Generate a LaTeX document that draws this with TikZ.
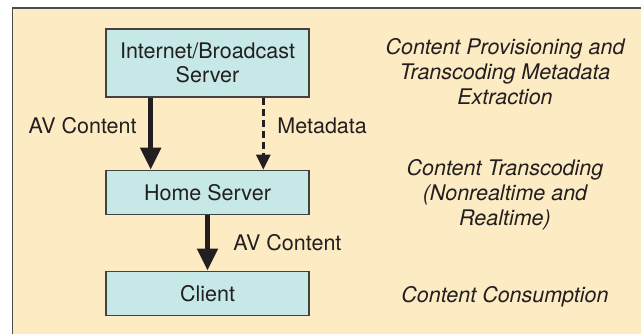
\documentclass[tikz,border=0pt]{standalone}
\usepackage{fontspec}
\setmainfont{TeX Gyre Heros}
\usetikzlibrary{arrows.meta}
\definecolor{panelbg}{HTML}{FDEBC3}
\definecolor{boxfill}{HTML}{C6E8E6}
\definecolor{inkdark}{HTML}{231F20}
\begin{document}
\begin{tikzpicture}[x=0.5pt, y=-0.5pt,
  every node/.style={text=inkdark, inner sep=0pt},
  srvbox/.style={draw=inkdark!85, line width=0.8pt, fill=boxfill, minimum width=101.5pt,
    align=center, font=\fontsize{10.75}{12}\selectfont},
  lbl/.style={font=\fontsize{10.75}{12}\selectfont},
  role/.style={align=center, anchor=north, font=\fontsize{10.75}{12.5}\selectfont\itshape},
  avflow/.style={draw=inkdark, line width=2.5pt, -{Triangle[width=10pt,length=11pt]}},
  metaflow/.style={draw=inkdark, line width=1.4pt, dash pattern=on 3.5pt off 2pt,
    -{Triangle[width=7pt,length=7.5pt]}}]
\useasboundingbox (0,0) rectangle (641,333);
\draw[draw=inkdark!80, line width=0.8pt, fill=panelbg] (12.5,8) rectangle (660,350);
\node[srvbox, minimum height=34pt] (srv0) at (207.5,62.8){Internet/Broadcast\\Server};
\node[srvbox, minimum height=22pt] (srv1) at (207.5,192.5){Home Server};
\node[srvbox, minimum height=22pt] (srv2) at (207.5,293.3){Client};
\draw[avflow] ([xshift=-28.4pt]srv0.south) -- ([xshift=-28.4pt]srv1.north);
\draw[metaflow] ([xshift=27.9pt]srv0.south) -- ([xshift=27.9pt]srv1.north);
\draw[avflow] (srv1.south) -- (srv2.north);
\node[lbl, anchor=east] (av0) at (137,125.5){AV Content};
\node[lbl, anchor=west] (meta) at (277,125.5){Metadata};
\node[lbl, anchor=west] (av1) at (233,242.5){AV Content};
\node[role] (role0) at (505,38.2){Content Provisioning and\\Transcoding Metadata\\Extraction};
\node[role] (role1) at (505,159.2){Content Transcoding\\(Nonrealtime and\\Realtime)};
\node[role] (role2) at (505,286.5){Content Consumption};
\end{tikzpicture}
\end{document}
